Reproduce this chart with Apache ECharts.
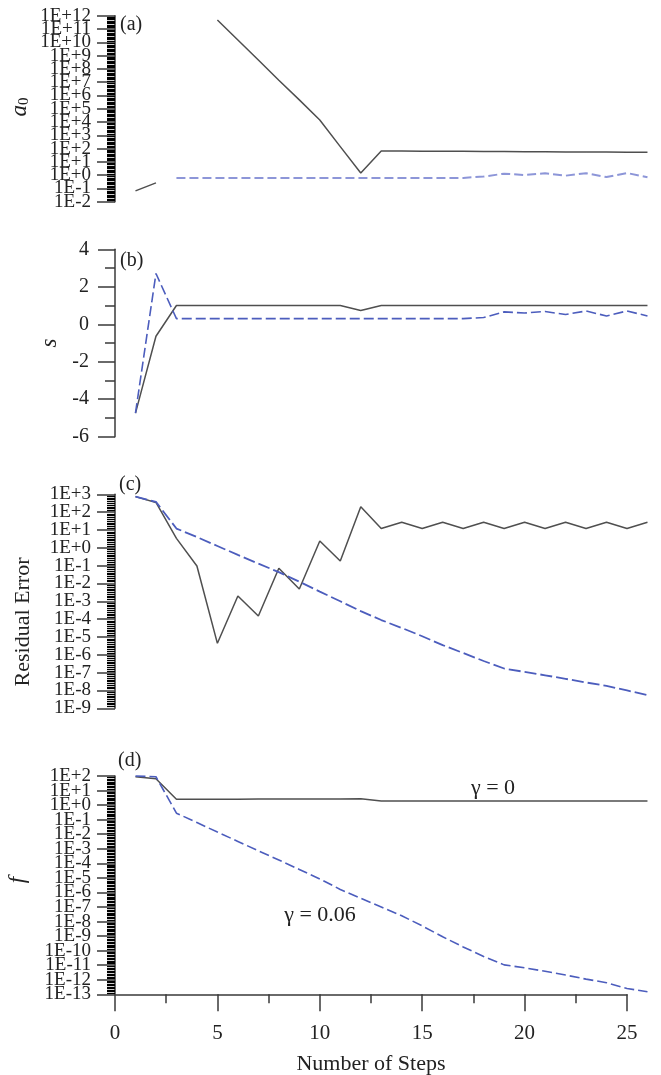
<!DOCTYPE html>
<html><head><meta charset="utf-8">
<script src="https://cdn.jsdelivr.net/npm/echarts@6/dist/echarts.min.js"></script>
<style>html,body{margin:0;padding:0;background:#fff}#c{width:661px;height:1075px}</style>
</head><body><div id="c"></div>
<script>
// ---- data ----
const steps = [1,2,3,4,5,6,7,8,9,10,11,12,13,14,15,16,17,18,19,20,21,22,23,24,25,26];

// (a) a0, log scale
const a0Gamma0 = [6.5e-2, 2.6e-1, null, null, 4.8e11, 1.5e10, 4.7e8, 1.4e7, 4.6e5, 1.4e4, 1.4e2, 1.45, 66, 65, 64, 63, 62, 61, 60, 58, 57, 56, 55, 54, 53, 52];
const a0Gamma006 = [null, null, 0.62, 0.62, 0.62, 0.62, 0.62, 0.62, 0.62, 0.62, 0.62, 0.62, 0.62, 0.62, 0.62, 0.62, 0.62, 0.78, 1.29, 1.02, 1.38, 0.91, 1.38, 0.72, 1.45, 0.69];

// (b) s, linear scale
const sGamma0 = [-4.74, -0.64, 1.0, 1.0, 1.0, 1.0, 1.0, 1.0, 1.0, 1.0, 1.0, 0.73, 1.0, 1.0, 1.0, 1.0, 1.0, 1.0, 1.0, 1.0, 1.0, 1.0, 1.0, 1.0, 1.0, 1.0];
const sGamma006 = [-4.74, 2.71, 0.30, 0.30, 0.30, 0.30, 0.30, 0.30, 0.30, 0.30, 0.30, 0.30, 0.30, 0.30, 0.30, 0.30, 0.30, 0.36, 0.66, 0.60, 0.68, 0.52, 0.71, 0.44, 0.71, 0.44];

// (c) residual error, log scale
const resGamma0 = [7.4e2, 3.5e2, 3.4, 9.5e-2, 4.4e-6, 2.0e-3, 1.5e-4, 7.1e-2, 4.9e-3, 2.4, 1.8e-1, 2.0e2, 12, 27, 12, 27, 12, 27, 12, 27, 12, 27, 12, 27, 12, 27];
const resGamma006 = [7.4e2, 3.8e2, 12, 4.0, 1.26, 0.4, 0.13, 4.3e-2, 1.26e-2, 3.5e-3, 1.0e-3, 2.8e-4, 8.9e-5, 3.2e-5, 1.1e-5, 3.5e-6, 1.26e-6, 4.5e-7, 1.7e-7, 1.1e-7, 7.1e-8, 4.5e-8, 2.8e-8, 1.8e-8, 1.0e-8, 5.5e-9];

// (d) f, log scale
const fGamma0 = [89, 65, 2.5, 2.5, 2.55, 2.55, 2.6, 2.6, 2.6, 2.6, 2.65, 2.7, 1.95, 1.9, 1.9, 1.9, 1.9, 1.9, 1.9, 1.9, 1.9, 1.9, 1.9, 1.9, 1.9, 1.9];
const fGamma006 = [100, 89, 0.28, 6.3e-2, 1.4e-2, 3.2e-3, 7.2e-4, 1.7e-4, 3.8e-5, 8.5e-6, 1.6e-6, 4.0e-7, 1.0e-7, 2.5e-8, 5.0e-9, 8.9e-10, 1.8e-10, 4.0e-11, 1.05e-11, 6.6e-12, 3.8e-12, 2.1e-12, 1.1e-12, 6.3e-13, 2.5e-13, 1.5e-13];

// tick labels
const aTickLabels = ['1E-2','1E-1','1E+0','1E+1','1E+2','1E+3','1E+4','1E+5','1E+6','1E+7','1E+8','1E+9','1E+10','1E+11','1E+12'];
const bTickLabels = ['-6','-4','-2','0','2','4'];
const cTickLabels = ['1E-9','1E-8','1E-7','1E-6','1E-5','1E-4','1E-3','1E-2','1E-1','1E+0','1E+1','1E+2','1E+3'];
const dTickLabels = ['1E-13','1E-12','1E-11','1E-10','1E-9','1E-8','1E-7','1E-6','1E-5','1E-4','1E-3','1E-2','1E-1','1E+0','1E+1','1E+2'];
const xTickLabels = ['0','5','10','15','20','25'];

// ---- styles ----
const SERIF = '"Liberation Serif", "Times New Roman", serif';
const AX = '#3a3a3a';
const TXT = '#222';
const BLACK = '#4f4f4f';
const BLUE = '#4c5dbd';
const BLUE_A = '#8d96d8';

// the drawn x axis spans 0..25; the data run to step 26, so data grids span 0..26 at the same scale
const X_AXIS_MAX = 25, X_DATA_MAX = 26;
const PX_PER_STEP = 512 / X_AXIS_MAX;
const gridBase = {left:115, width:PX_PER_STEP * X_DATA_MAX, outerBoundsMode:'none', containLabel:false};
const grids = [
  Object.assign({top:15.7, height:186}, gridBase),
  Object.assign({top:249.3, height:187.4}, gridBase),
  Object.assign({top:494.3, height:214}, gridBase),
  Object.assign({top:776, height:218.3}, gridBase),
  // grid carrying the visible step axis of panel (d)
  Object.assign({}, gridBase, {top:776, height:218.3, width:PX_PER_STEP * X_AXIS_MAX})
];

function xData(i){
  return {type:'value', gridIndex:i, min:0, max:X_DATA_MAX, show:false,
    axisLine:{onZero:false}, splitLine:{show:false}};
}
const xVisible = {
  type:'value', gridIndex:4, min:0, max:X_AXIS_MAX, interval:5,
  axisLine:{show:true, onZero:false, lineStyle:{color:AX, width:1.5}},
  axisTick:{show:true, length:17, lineStyle:{color:AX, width:1.5}},
  minorTick:{show:true, splitNumber:2, length:9, lineStyle:{color:AX, width:1.5}},
  splitLine:{show:false}, minorSplitLine:{show:false},
  axisLabel:{fontSize:21, margin:29, color:TXT, fontFamily:SERIF, showMinLabel:true, showMaxLabel:true,
    formatter:v => xTickLabels[Math.round(v/5)]},
  name:'Number of Steps', nameLocation:'middle', nameGap:59,
  nameTextStyle:{fontSize:22, color:TXT, fontFamily:SERIF}
};
const expOf = s => Number(s.slice(2));
// decade axis: positions are log10 of the values, ticks at every decade.
// inner labels are drawn here; the two end labels come from a companion axis
function decadeY(i, labels, minorSplit){
  const e0 = expOf(labels[0]);
  const e1 = expOf(labels[labels.length-1]);
  return {
    type:'value', gridIndex:i, position:'left', offset:0, min:e0, max:e1, interval:1,
    axisLine:{show:true, onZero:false, lineStyle:{color:AX, width:1.5}},
    axisTick:{show:true, length:18, lineStyle:{color:AX, width:1.5}},
    minorTick:{show:true, splitNumber:minorSplit, length:8, lineStyle:{color:'#000', width:1.2}},
    splitLine:{show:false}, minorSplitLine:{show:false},
    axisLabel:{fontSize:19, margin:24, color:TXT, fontFamily:SERIF, showMinLabel:false, showMaxLabel:false,
      formatter: v => labels[Math.round(v) - e0] || ''}
  };
}
function decadeEnds(i, labels){
  const e0 = expOf(labels[0]);
  const e1 = expOf(labels[labels.length-1]);
  return {
    type:'value', gridIndex:i, position:'left', offset:0, min:e0, max:e1, interval:e1-e0,
    axisLine:{show:false, onZero:false}, axisTick:{show:false}, minorTick:{show:false},
    splitLine:{show:false}, minorSplitLine:{show:false},
    axisLabel:{fontSize:19, margin:24, color:TXT, fontFamily:SERIF, showMinLabel:true, showMaxLabel:true,
      formatter: v => labels[Math.round(v) - e0] || ''}
  };
}
const yB = {
  type:'value', gridIndex:1, position:'left', min:-6, max:4, interval:2,
  axisLine:{show:true, onZero:false, lineStyle:{color:AX, width:1.5}},
  axisTick:{show:true, length:17, lineStyle:{color:AX, width:1.5}},
  minorTick:{show:true, splitNumber:2, length:10, lineStyle:{color:AX, width:1.5}},
  splitLine:{show:false}, minorSplitLine:{show:false},
  axisLabel:{fontSize:20, margin:26, color:TXT, fontFamily:SERIF, showMinLabel:true, showMaxLabel:true,
    formatter:v => bTickLabels[Math.round((v+6)/2)]}
};
const yDummy = {type:'value', gridIndex:4, min:0, max:1, show:false, splitLine:{show:false}};

function ser(i, arr, isLog, color, dashed, width, dash){
  return {
    type:'line', xAxisIndex:i, yAxisIndex:i, symbol:'none', clip:false, connectNulls:false,
    lineStyle:{color:color, width:width, type: dashed ? dash : 'solid'},
    data: steps.map((s,k) => [s, arr[k] == null ? '-' : (isLog ? Math.log10(arr[k]) : arr[k])]),
    z: dashed ? 3 : 2
  };
}

const serifFont = (sz, it) => (it ? 'italic ' : '') + sz + 'px ' + SERIF;

const option = {
  animation:false,
  backgroundColor:'#fff',
  grid: grids,
  xAxis: [xData(0), xData(1), xData(2), xData(3), xVisible],
  yAxis: [decadeY(0, aTickLabels, 10), yB, decadeY(2, cTickLabels, 10), decadeY(3, dTickLabels, 10),
          decadeEnds(0, aTickLabels), decadeEnds(2, cTickLabels), decadeEnds(3, dTickLabels), yDummy],
  series: [
    ser(0, a0Gamma0, true, BLACK, false, 1.5),
    ser(0, a0Gamma006, true, BLUE_A, true, 2, [9,4]),
    ser(1, sGamma0, false, BLACK, false, 1.5),
    ser(1, sGamma006, false, BLUE, true, 1.6, [10,4]),
    ser(2, resGamma0, true, BLACK, false, 1.5),
    ser(2, resGamma006, true, BLUE, true, 1.8, [12,4]),
    ser(3, fGamma0, true, BLACK, false, 1.5),
    ser(3, fGamma006, true, BLUE, true, 1.6, [10,4])
  ],
  graphic: [
    {type:'text', x:20, y:107, rotation:Math.PI/2, style:{text:'{a|a}{s|0}', align:'center', verticalAlign:'middle', fill:TXT,
      rich:{a:{font:serifFont(23,true), fill:TXT}, s:{font:serifFont(15,false), fill:TXT, padding:[9,0,0,0]}}}},
    {type:'text', x:50, y:343, rotation:Math.PI/2, style:{text:'s', font:serifFont(23,true), fill:TXT, align:'center', verticalAlign:'middle'}},
    {type:'text', x:23, y:622, rotation:Math.PI/2, style:{text:'Residual Error', font:serifFont(22,false), fill:TXT, align:'center', verticalAlign:'middle'}},
    {type:'text', x:18, y:880, rotation:Math.PI/2, style:{text:'f', font:serifFont(23,true), fill:TXT, align:'center', verticalAlign:'middle'}},
    {type:'text', x:120, y:25, style:{text:'(a)', font:serifFont(20,false), fill:TXT, align:'left', verticalAlign:'middle'}},
    {type:'text', x:120, y:261, style:{text:'(b)', font:serifFont(20,false), fill:TXT, align:'left', verticalAlign:'middle'}},
    {type:'text', x:119, y:485, style:{text:'(c)', font:serifFont(20,false), fill:TXT, align:'left', verticalAlign:'middle'}},
    {type:'text', x:118, y:761, style:{text:'(d)', font:serifFont(20,false), fill:TXT, align:'left', verticalAlign:'middle'}},
    {type:'text', x:493, y:788, style:{text:'γ = 0', font:serifFont(22,false), fill:TXT, align:'center', verticalAlign:'middle'}},
    {type:'text', x:320, y:915, style:{text:'γ = 0.06', font:serifFont(22,false), fill:TXT, align:'center', verticalAlign:'middle'}}
  ]
};
const chart = echarts.init(document.getElementById('c'), null, {renderer:'canvas'});
chart.setOption(option);
</script>
</body></html>
